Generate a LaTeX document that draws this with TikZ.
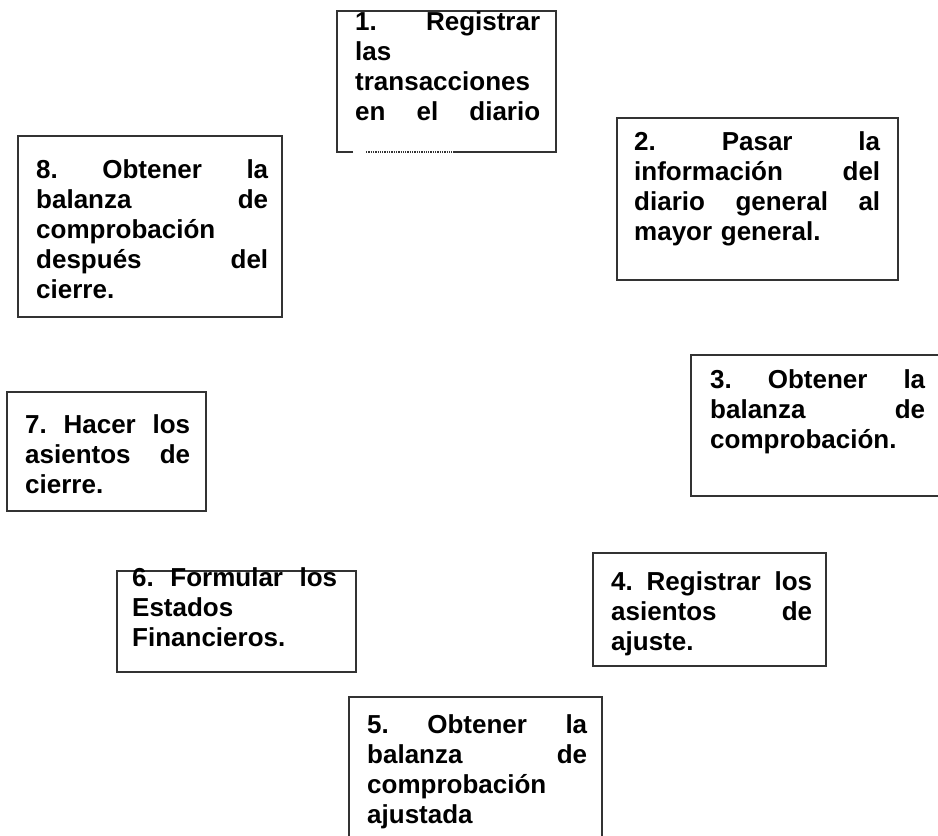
\documentclass[tikz,border=0pt]{standalone}
\usepackage{fontspec}
\setmainfont{Liberation Sans}
\tikzset{
  caja/.style={draw=black!80, line width=1.3pt},
  texto/.style={anchor=base west, inner sep=0pt, align=left,
    font=\fontsize{26}{30}\selectfont\bfseries}
}
\newcommand{\caja}[4]{
	\draw[caja] (#1,#2) rectangle (#3,#4);
}

\begin{document}
\begin{tikzpicture}[x=1pt,y=-1pt]
	\path[use as bounding box, fill=white] (0,0) rectangle (938,836);
	\clip (0,0) rectangle (938,836);

	% 1
	\draw[caja] (353,152) -- (337,152) -- (337,11) -- (556,11) -- (556,152) -- (453,152);
	\draw[caja, densely dotted] (366,152) -- (453,152);
	\node[texto, text width=185pt] (p1) at (355,30)
		{1.\hfill Registrar\\ las\\ transacciones\\ en\hfill el\hfill diario};

	% 2
	\caja{617}{118}{898}{280}
	\node[texto, text width=246pt] (p2) at (634,150)
		{2.\hfill Pasar\hfill la\\ información\hfill del\\ diario\hfill general\hfill al\\ mayor general.};

	% 3
	\caja{691}{355}{960}{496}
	\node[texto, text width=215pt] (p3) at (710,388)
		{3.\hfill Obtener\hfill la\\ balanza\hfill de\\ comprobación.};

	% 4
	\caja{593}{553}{826}{666}
	\node[texto, text width=201pt] (p4) at (611,590)
		{4.\hfill Registrar\hfill los\\ asientos\hfill de\\ ajuste.};

	% 5
	\caja{349}{697}{602}{860}
	\node[texto, text width=220pt] (p5) at (367,733)
		{5.\hfill Obtener\hfill la\\ balanza\hfill de\\ comprobación\\ ajustada};

	% 6
	\caja{117}{571}{356}{672}
	\node[texto, text width=205pt] (p6) at (132,586)
		{6.\hfill Formular\hfill los\\ Estados\\ Financieros.};

	% 7
	\caja{7}{392}{206}{511}
	\node[texto, text width=165pt] (p7) at (25,433)
		{7.\hfill Hacer\hfill los\\ asientos\hfill de\\ cierre.};

	% 8
	\caja{18}{136}{282}{317}
	\node[texto, text width=232pt] (p8) at (36,178)
		{8.\hfill Obtener\hfill la\\ balanza\hfill de\\ comprobación\\ después\hfill del\\ cierre.};
\end{tikzpicture}
\end{document}
